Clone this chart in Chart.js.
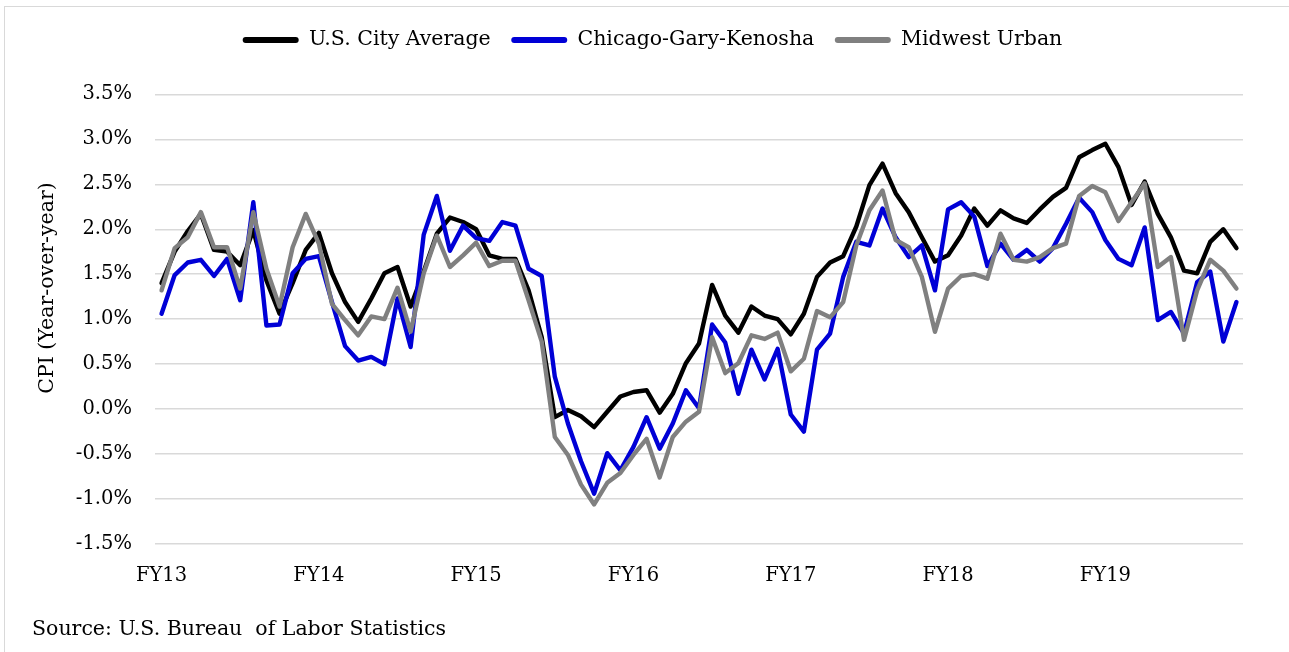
<!DOCTYPE html>
<html>
<head>
<meta charset="utf-8">
<title>CPI Year-over-year</title>
<script src="https://cdn.jsdelivr.net/npm/chart.js@4/dist/chart.umd.min.js"></script>
<style>
    html, body { margin: 0; padding: 0; background: #fff; overflow: hidden; }
    #wrap { position: relative; width: 1289px; height: 652px; }
    #frame { position: absolute; left: 4px; top: 6px; right: -20px; bottom: -20px; border: 1px solid #d9d9d9; pointer-events: none; }
</style>
</head>
<body>
<div id="wrap">
    <canvas id="cpiChart"></canvas>
    <div id="frame"></div>
</div>
<script>
// Data (monthly, FY13 - FY19)
const fiscalYears = ['FY13', 'FY14', 'FY15', 'FY16', 'FY17', 'FY18', 'FY19'];
const monthCount = 83;

const usCityAverage = [
    1.40, 1.75, 1.98, 2.17, 1.77, 1.75, 1.60, 1.99, 1.43, 1.06,
    1.40, 1.77, 1.96, 1.51, 1.19, 0.97, 1.23, 1.51, 1.58, 1.14,
    1.53, 1.95, 2.13, 2.08, 2.00, 1.71, 1.67, 1.67, 1.32, 0.80,
    -0.09, -0.01, -0.08, -0.20, -0.03, 0.14, 0.19, 0.21, -0.04, 0.17,
    0.51, 0.73, 1.38, 1.04, 0.85, 1.14, 1.04, 1.00, 0.83, 1.06,
    1.47, 1.63, 1.70, 2.03, 2.49, 2.73, 2.40, 2.19, 1.91, 1.64,
    1.71, 1.93, 2.23, 2.04, 2.21, 2.12, 2.07, 2.22, 2.36, 2.46,
    2.80, 2.88, 2.95, 2.69, 2.27, 2.53, 2.17, 1.91, 1.54, 1.51,
    1.86, 2.00, 1.79
];

const chicagoGaryKenosha = [
    1.06, 1.49, 1.63, 1.66, 1.48, 1.67, 1.21, 2.30, 0.93, 0.94,
    1.51, 1.67, 1.70, 1.19, 0.70, 0.54, 0.58, 0.50, 1.23, 0.69,
    1.94, 2.37, 1.76, 2.04, 1.90, 1.87, 2.08, 2.04, 1.56, 1.48,
    0.36, -0.16, -0.58, -0.94, -0.49, -0.68, -0.42, -0.09, -0.44, -0.16,
    0.21, 0.01, 0.94, 0.74, 0.17, 0.66, 0.33, 0.67, -0.06, -0.25,
    0.66, 0.84, 1.47, 1.86, 1.82, 2.23, 1.91, 1.69, 1.82, 1.32,
    2.22, 2.30, 2.14, 1.59, 1.84, 1.66, 1.77, 1.64, 1.79, 2.06,
    2.35, 2.19, 1.88, 1.67, 1.60, 2.02, 0.99, 1.08, 0.84, 1.41,
    1.53, 0.75, 1.19
];

const midwestUrban = [
    1.32, 1.79, 1.91, 2.19, 1.80, 1.80, 1.34, 2.19, 1.56, 1.14,
    1.80, 2.17, 1.84, 1.17, 0.99, 0.82, 1.03, 1.00, 1.35, 0.86,
    1.51, 1.93, 1.58, 1.71, 1.85, 1.59, 1.65, 1.65, 1.21, 0.75,
    -0.31, -0.51, -0.84, -1.06, -0.82, -0.71, -0.51, -0.33, -0.76, -0.31,
    -0.14, -0.03, 0.80, 0.40, 0.51, 0.82, 0.78, 0.85, 0.42, 0.56,
    1.09, 1.02, 1.19, 1.82, 2.21, 2.43, 1.88, 1.80, 1.47, 0.86,
    1.34, 1.48, 1.50, 1.45, 1.95, 1.66, 1.64, 1.69, 1.79, 1.84,
    2.37, 2.48, 2.41, 2.09, 2.30, 2.51, 1.58, 1.69, 0.77, 1.32,
    1.66, 1.54, 1.34
];

// One label per month, fiscal year name on the first month of each year
const labels = [];
for (let i = 0; i < monthCount; i++) {
    labels.push(i % 12 === 0 ? fiscalYears[i / 12] : '');
}

const FONT = "Georgia, 'DejaVu Serif', serif";
Chart.defaults.font.family = FONT;
Chart.defaults.font.size = 20.5;
Chart.defaults.color = '#000';

// Make room between legend and plot, nudge legend a bit right
const legendSpacer = {
    id: 'legendSpacer',
    beforeInit(chart) {
        const fit = chart.legend.fit;
        chart.legend.fit = function () {
            fit.bind(chart.legend)();
            this.height = 85;
        };
    },
    afterLayout(chart) {
        chart.legend.left += 15;
        chart.legend.right += 15;
    }
};

// Y axis title, drawn by hand so it can sit where the original has it
const yTitle = {
    id: 'yTitle',
    afterDraw(chart) {
        const ctx = chart.ctx;
        ctx.save();
        ctx.translate(48, 288);
        ctx.rotate(-Math.PI / 2);
        ctx.font = `20.5px ${FONT}`;
        ctx.fillStyle = '#000';
        ctx.textAlign = 'center';
        ctx.textBaseline = 'middle';
        ctx.fillText('CPI (Year-over-year)', 0, 0);
        ctx.restore();
    }
};

const lineStyle = (color) => ({
    borderColor: color,
    backgroundColor: color,
    borderWidth: 4.4,
    pointRadius: 0,
    tension: 0,
    borderJoinStyle: 'round',
    borderCapStyle: 'round'
});

new Chart(document.getElementById('cpiChart'), {
    type: 'line',
    data: {
        labels: labels,
        datasets: [
            { label: 'U.S. City Average', data: usCityAverage, order: 2, ...lineStyle('#000000') },
            { label: 'Chicago-Gary-Kenosha', data: chicagoGaryKenosha, order: 1, ...lineStyle('#0000d6') },
            { label: 'Midwest Urban', data: midwestUrban, order: 0, ...lineStyle('#808080') }
        ]
    },
    options: {
        responsive: true,
        maintainAspectRatio: false,
        animation: false,
        layout: { padding: { left: 32, right: 46, top: 9.3, bottom: 9.7 } },
        scales: {
            x: {
                offset: true,
                grid: { display: false, drawTicks: false },
                border: { display: false },
                ticks: { autoSkip: false, maxRotation: 0, padding: 20, font: { size: 19.5 } },
                afterFit: (scale) => { scale.height = 73.7; }
            },
            y: {
                min: -1.5,
                max: 3.5,
                grid: { color: '#d9d9d9', lineWidth: 1.4, drawTicks: false },
                border: { display: false },
                ticks: {
                    stepSize: 0.5,
                    padding: 23,
                    font: { size: 19.5 },
                    callback: (v) => v.toFixed(1) + '%'
                },
                afterFit: (scale) => { scale.width = 123; }
            }
        },
        plugins: {
            legend: {
                position: 'top',
                labels: {
                    boxWidth: 56,
                    boxHeight: 6,
                    padding: 20.5,
                    useBorderRadius: true,
                    borderRadius: 3,
                    sort: (a, b) => a.datasetIndex - b.datasetIndex,
                    generateLabels: (chart) =>
                        Chart.defaults.plugins.legend.labels.generateLabels(chart)
                            .map(item => ({ ...item, lineWidth: 0 }))
                }
            },
            title: {
                display: true,
                position: 'bottom',
                align: 'start',
                text: 'Source: U.S. Bureau  of Labor Statistics',
                font: { size: 20.5, weight: 'normal' },
                padding: 0
            },
            tooltip: { enabled: false }
        }
    },
    plugins: [legendSpacer, yTitle]
});
</script>
</body>
</html>
